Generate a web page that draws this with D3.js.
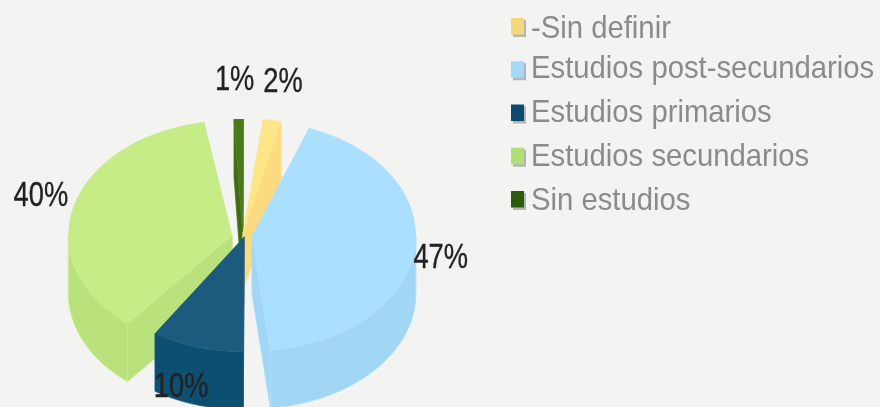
<!DOCTYPE html>
<html><head><meta charset="utf-8">
<script src="https://cdnjs.cloudflare.com/ajax/libs/d3/7.8.5/d3.min.js"></script>
<style>html,body{margin:0;padding:0;background:#f3f3f2;overflow:hidden}text{font-family:"Liberation Sans",Arial,sans-serif}</style>
</head><body><svg id="c" width="880" height="407"></svg>
<script>
const categories = ["-Sin definir","Estudios post-secundarios","Estudios primarios","Estudios secundarios","Sin estudios"];
const values = [2,47,10,40,1];
const sliceLabels = ["2%","47%","10%","40%","1%"];
const faceColors = ["#fde588","#abdfff","#1a5a7e","#c6ec88","#4a7a18"];
const wallColors = ["#fcdb80","#a1d6f5","#0d4f73","#b9e27c","#3f6b12"];
const swatchColors = ["#f5d77c","#a5d8f5","#0b4a70","#b0df74","#2f5a0a"];
const labelOffsets = [[10,-23],[26,18],[-11,45],[-33,2],[-3,-23]];
const sliceNudges = [[-1,5],[0,0],[5,-5],[0,2],[1,6]];
const legendTextNudges = [0,-3,-3,-2,-1];
const drawOrder = [4,0,3,1,2];

const rad = d => d*Math.PI/180;
const W=880,H=407, cx=242, cy=235, rx=164, ry=115, depth=58, explode=10;
const svg=d3.select("#c");
const defs=svg.append("defs");
defs.append("filter").attr("id","soft").attr("x","-5%").attr("y","-5%").attr("width","110%").attr("height","110%")
  .append("feGaussianBlur").attr("stdDeviation",0.7);
const root=svg.append("g").attr("filter","url(#soft)");
root.append("rect").attr("width",W).attr("height",H).attr("fill","#f3f3f2");

const pie=d3.pie().sort(null).startAngle(rad(3.6)).endAngle(rad(363.6)).padAngle(rad(6.8));
const arcs=pie(values);
const sx=d3.scaleLinear().domain([-1,1]).range([-rx,rx]);
const sy=d3.scaleLinear().domain([-1,1]).range([-ry,ry]);
const pad=rad(6.8)/2;
const line=d3.line();

function sliceGeom(a){
  const s=a.startAngle+pad, e=a.endAngle-pad, m=(s+e)/2;
  const ox=cx+explode*Math.sin(m), oy=cy-explode*Math.cos(m)*ry/rx;
  const pt=t=>[ox+sx(Math.sin(t)), oy+sy(-Math.cos(t))];
  return {s,e,m,ox,oy,pt};
}
function arcPts(g,t0,t1,dy){
  return d3.range(0,61).map(i=>{const p=g.pt(t0+(t1-t0)*i/60);return [p[0],p[1]+dy];});
}
drawOrder.forEach(i=>{
  const g=sliceGeom(arcs[i]);
  const n=root.append("g").attr("transform",`translate(${sliceNudges[i][0]},${sliceNudges[i][1]})`);
  const face=faceColors[i], wall=wallColors[i];
  const wallStyle=sel=>sel.attr("fill",wall).attr("stroke",face).attr("stroke-width",0.8).attr("stroke-linejoin","round");
  [[g.s,Math.sin(g.s)<0],[g.e,Math.sin(g.e)>0]].forEach(([t,vis])=>{
    if(!vis) return;
    const p=g.pt(t);
    n.append("path").call(wallStyle)
      .attr("d",line([[g.ox,g.oy],p,[p[0],p[1]+depth],[g.ox,g.oy+depth]])+"Z");
  });
  const lo=Math.max(g.s,rad(90)), hi=Math.min(g.e,rad(270));
  if(hi>lo){
    const top=arcPts(g,lo,hi,0), bot=arcPts(g,hi,lo,depth);
    n.append("path").call(wallStyle).attr("d",line(top.concat(bot))+"Z");
  }
  n.append("path").attr("fill",face)
    .attr("d",line([[g.ox,g.oy]].concat(arcPts(g,g.s,g.e,0)))+"Z");
  const o=g.pt(g.m);
  root.append("text").attr("class","lab")
    .attr("text-anchor","middle").attr("font-size",35).attr("fill","#222")
    .attr("stroke","#222").attr("stroke-width",0.35)
    .attr("transform",`translate(${o[0]+labelOffsets[i][0]},${o[1]+labelOffsets[i][1]}) scale(0.78,1)`)
    .text(sliceLabels[i]);
});
root.selectAll("text.lab").raise();

const ly=d3.scalePoint().domain(categories).range([27,200]);
const lg=root.append("g");
categories.forEach((c,i)=>{
  const y=ly(c);
  lg.append("rect").attr("x",513).attr("y",y-7).attr("width",13).attr("height",17).attr("fill","#b5b5b5");
  lg.append("rect").attr("x",511).attr("y",y-9).attr("width",13).attr("height",16.5).attr("fill",swatchColors[i]);
  lg.append("text").attr("font-size",32).attr("fill","#8b8b8b")
    .attr("transform",`translate(531,${y+11+legendTextNudges[i]}) scale(0.915,1)`).text(c);
});
</script></body></html>
